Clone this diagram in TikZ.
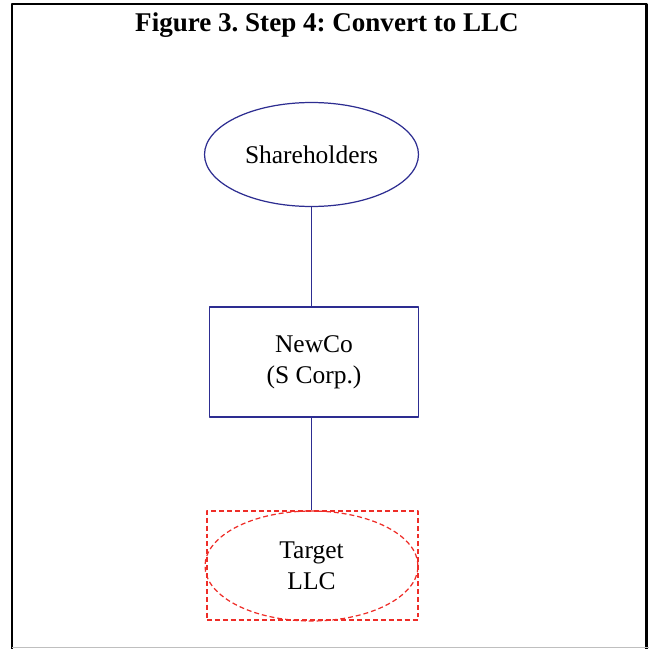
\documentclass[tikz,border=0pt]{standalone}
\usepackage{fontspec}
\setmainfont{Liberation Serif}
\usetikzlibrary{shapes.geometric}
\definecolor{navyline}{RGB}{45,45,145}
\definecolor{llcred}{RGB}{238,45,40}
\frenchspacing
\begin{document}
\begin{tikzpicture}[x=0.02cm, y=-0.02cm, line join=round,
  font=\fontsize{14.5}{17.6}\selectfont,
  holder/.style={ellipse, draw=navyline, line width=0.7pt, inner sep=0pt,
    minimum width=4.28cm, minimum height=2.08cm},
  corp/.style={rectangle, draw=navyline, line width=0.7pt, inner sep=0pt, align=center,
    minimum width=4.18cm, minimum height=2.2cm},
  llcbox/.style={rectangle, draw=llcred, line width=0.7pt, dash pattern=on 2.8pt off 1.7pt,
    inner sep=0pt, minimum width=4.22cm, minimum height=2.18cm},
  llcoval/.style={ellipse, draw=llcred, line width=0.7pt, dash pattern=on 2.8pt off 1.7pt,
    inner sep=0pt, align=center, minimum width=4.26cm, minimum height=2.2cm},
  link/.style={draw=navyline, line width=0.8pt}]
\useasboundingbox (0,0) rectangle (649,649);
% frame
\draw[line width=1.7pt] (12,650) -- (12,4) -- (646,4) -- (646,650);
\draw[black!25, line width=0.5pt] (12,647.5) -- (649,647.5);
\node[font=\fontsize{15.4}{18}\selectfont\bfseries] (title) at (327,25) {Figure 3. Step 4: Convert to LLC};
% entities
\node[holder] (sh) at (311.5,154.5) {Shareholders};
\node[corp] (newco) at (314,362) {NewCo\\(S Corp.)};
\node[llcbox] (tgtbox) at (312.5,565.5) {};
\node[llcoval] (tgt) at (311.5,566) {Target\\LLC};
% ownership
\draw[link] (sh.south) -- (sh.south |- newco.north);
\draw[link] (sh.south |- newco.south) -- (sh.south |- tgtbox.north);
\end{tikzpicture}
\end{document}
